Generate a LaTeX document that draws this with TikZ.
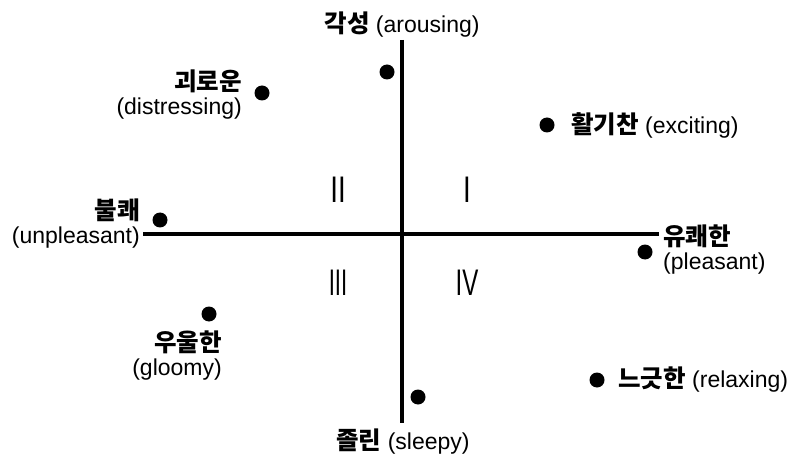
\documentclass[tikz,border=0pt]{standalone}
\usepackage{fontspec}
\setmainfont{Liberation Sans}
\newfontfamily\kr{Noto Sans CJK KR}
\newcommand{\kt}[1]{{\fontsize{24.5}{24}\selectfont\kr\bfseries #1}}
\begin{document}
\begin{tikzpicture}[x=1pt,y=-1pt,
  dot/.style={circle,fill=black,inner sep=0pt,minimum size=15pt},
  lab/.style={font=\fontsize{23}{24}\selectfont,inner sep=0pt},
  roman/.style={font=\fontsize{37}{37}\selectfont,inner sep=0pt},
  axis/.style={line width=4pt}]
\useasboundingbox (0,0) rectangle (795,457);
% axes
\coordinate (top) at (402,40);
\coordinate (bot) at (402,423);
\coordinate (lft) at (143,234);
\coordinate (rgt) at (659,234);
\draw[axis] (top) -- (bot);
\draw[axis] (lft) -- (rgt);
% dots
\node[dot] (dA) at (387,72) {};
\node[dot] (dD) at (262,93) {};
\node[dot] (dU) at (160,220) {};
\node[dot] (dE) at (547,125) {};
\node[dot] (dP) at (645,252) {};
\node[dot] (dG) at (209,314) {};
\node[dot] (dS) at (418,397) {};
\node[dot] (dR) at (597,380) {};
% labels
\node[lab] (tA) at (402,25) {\kt{각성} (arousing)};
\node[lab] (tS) at (403,442) {\kt{졸린} (sleepy)};
\node[lab,anchor=east,align=right] (tD) at (242,95) {\kt{괴로운}\\(distressing)};
\node[lab,anchor=east,align=right] (tU) at (140,224) {\kt{불쾌}\\(unpleasant)};
\node[lab,anchor=west,align=left] (tP) at (663,250) {\kt{유쾌한}\\(pleasant)};
\node[lab,anchor=east,align=right] (tG) at (222,356) {\kt{우울한}\\(gloomy)};
\node[lab,anchor=west] (tE) at (571,125) {\kt{활기찬} (exciting)};
\node[lab,anchor=west] (tR) at (618,380) {\kt{느긋한} (relaxing)};
% quadrant numerals
\node[roman] (q2) at (338,190) {\scalebox{0.75}[1]{II}};
\node[roman] (q1) at (467,190) {\scalebox{0.75}[1]{I}};
\node[roman] (q3) at (338,283) {\scalebox{0.6}[1]{III}};
\node[roman] (q4) at (467,283) {\scalebox{0.65}[1]{IV}};
\end{tikzpicture}
\end{document}
